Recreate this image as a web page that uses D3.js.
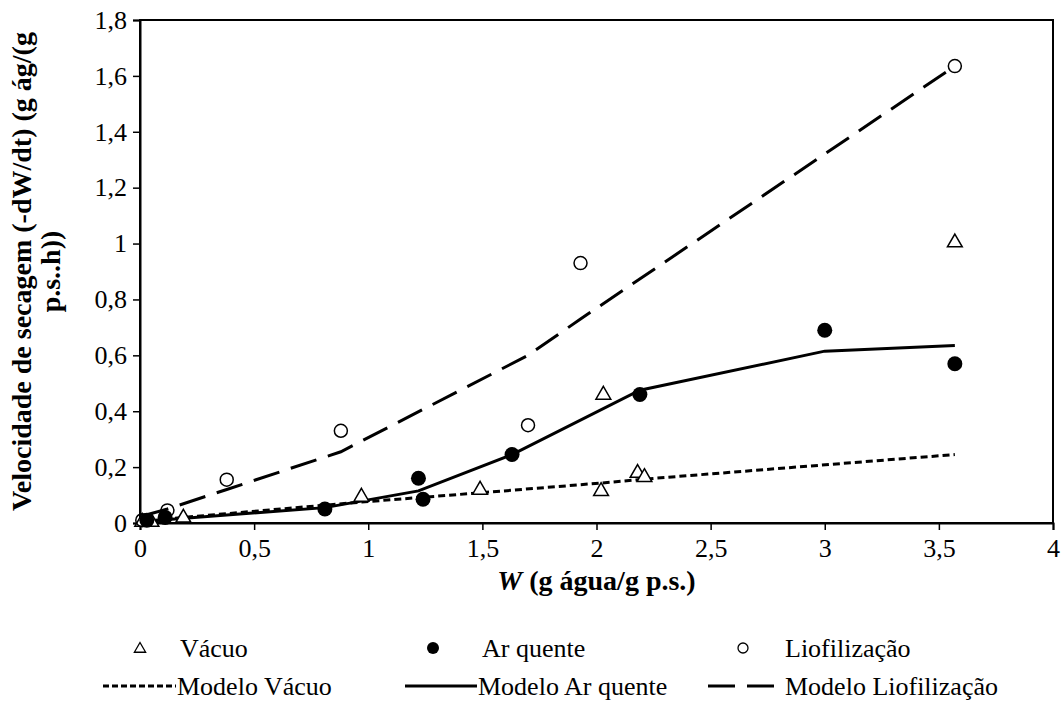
<!DOCTYPE html>
<html>
<head>
<meta charset="utf-8">
<script src="https://cdn.jsdelivr.net/npm/d3@7"></script>
<style>
  body { margin: 0; background: #fff; }
  text { font-family: "Liberation Serif", "Times New Roman", serif; fill: #000; }
</style>
</head>
<body>
<script>
// observed points (W, -dW/dt)
var vacuoX = [0.01, 0.05, 0.19, 0.97, 1.49, 2.02, 2.03, 2.18, 2.21, 3.57];
var vacuoY = [0.0, 0.0, 0.015, 0.09, 0.115, 0.11, 0.455, 0.175, 0.16, 1.0];
var arX = [0.03, 0.11, 0.81, 1.22, 1.24, 1.63, 2.19, 3.0, 3.57];
var arY = [0.01, 0.02, 0.05, 0.16, 0.085, 0.245, 0.46, 0.69, 0.57];
var lioX = [0.01, 0.12, 0.38, 0.88, 1.70, 1.93, 3.57];
var lioY = [0.01, 0.045, 0.155, 0.33, 0.35, 0.93, 1.635];

// model curves
var modVacuoX = [0.01, 0.19, 0.97, 1.49, 2.02, 2.21, 3.57];
var modVacuoY = [0.005, 0.02, 0.075, 0.108, 0.143, 0.157, 0.245];
var modArX = [0.03, 0.11, 0.81, 1.22, 1.63, 2.19, 3.0, 3.57];
var modArY = [0.005, 0.012, 0.055, 0.115, 0.245, 0.475, 0.615, 0.635];
var modLioX = [0.01, 0.12, 0.38, 0.88, 1.70, 1.93, 3.57];
var modLioY = [0.025, 0.05, 0.12, 0.255, 0.60, 0.73, 1.635];

var xTicks = [0, 0.5, 1, 1.5, 2, 2.5, 3, 3.5, 4];
var yTicks = [0, 0.2, 0.4, 0.6, 0.8, 1, 1.2, 1.4, 1.6, 1.8];

var fmt = function(d){ return String(d).replace(".", ","); };

var svg = d3.select("body").append("svg")
    .attr("width", 1061)
    .attr("height", 705);

// plot box
var pLeft = 140, pRight = 1053, pTop = 20, pBottom = 523;

var x = d3.scaleLinear().domain([0, 4]).range([pLeft, pRight]);
var y = d3.scaleLinear().domain([0, 1.8]).range([pBottom, pTop]);

// frame
svg.append("rect")
    .attr("x", pLeft).attr("y", pTop)
    .attr("width", pRight - pLeft).attr("height", pBottom - pTop)
    .attr("fill", "none").attr("stroke", "#000").attr("stroke-width", 2);

// axes
var xAxis = svg.append("g")
    .attr("transform", "translate(0," + pBottom + ")")
    .call(d3.axisBottom(x).tickValues(xTicks).tickFormat(fmt).tickSize(7).tickPadding(8));
var yAxis = svg.append("g")
    .attr("transform", "translate(" + pLeft + ",0)")
    .call(d3.axisLeft(y).tickValues(yTicks).tickFormat(fmt).tickSize(7).tickPadding(6));

[xAxis, yAxis].forEach(function(a){
    a.select(".domain").attr("stroke", "#000").attr("stroke-width", 2);
    a.selectAll(".tick line").attr("stroke", "#000").attr("stroke-width", 1.5);
    a.selectAll(".tick text")
        .attr("font-family", "Liberation Serif, serif")
        .attr("font-size", 26)
        .attr("fill", "#000");
});
xAxis.selectAll(".tick text").attr("dy", "0.72em");

// axis titles
var xt = svg.append("text")
    .attr("x", (pLeft + pRight) / 2).attr("y", 590)
    .attr("text-anchor", "middle")
    .attr("font-size", 28).attr("font-weight", "bold");
xt.append("tspan").attr("font-style", "italic").text("W");
xt.append("tspan").text(" (g água/g p.s.)");

var yt = svg.append("text")
    .attr("transform", "translate(31," + ((pTop + pBottom) / 2) + ") rotate(-90)")
    .attr("text-anchor", "middle")
    .attr("font-size", 28).attr("font-weight", "bold");
yt.append("tspan").attr("x", 0).attr("dy", 0).text("Velocidade de secagem (-dW/dt) (g ág/(g");
yt.append("tspan").attr("x", 0).attr("dy", 29).text("p.s..h))");

// model lines
function zip(xs, ys){ return xs.map(function(v, i){ return [v, ys[i]]; }); }
var line = d3.line().x(function(d){ return x(d[0]); }).y(function(d){ return y(d[1]); });

var models = [
    {pts: zip(modVacuoX, modVacuoY), dash: "7,4"},
    {pts: zip(modArX, modArY), dash: null},
    {pts: zip(modLioX, modLioY), dash: "27,12"}
];
models.forEach(function(m){
    svg.append("path")
        .attr("d", line(m.pts))
        .attr("fill", "none")
        .attr("stroke", "#000")
        .attr("stroke-width", 3)
        .attr("stroke-dasharray", m.dash);
});

// markers
var tri = d3.symbol().type(d3.symbolTriangle).size(95);

svg.append("g").selectAll("path").data(zip(vacuoX, vacuoY)).enter()
    .append("path")
    .attr("d", tri)
    .attr("transform", function(d){ return "translate(" + x(d[0]) + "," + (y(d[1]) - 1) + ")"; })
    .attr("fill", "#fff").attr("stroke", "#000").attr("stroke-width", 1.5);

svg.append("g").selectAll("circle").data(zip(arX, arY)).enter()
    .append("circle")
    .attr("cx", function(d){ return x(d[0]); })
    .attr("cy", function(d){ return y(d[1]); })
    .attr("r", 7.5)
    .attr("fill", "#000");

svg.append("g").selectAll("circle").data(zip(lioX, lioY)).enter()
    .append("circle")
    .attr("cx", function(d){ return x(d[0]); })
    .attr("cy", function(d){ return y(d[1]); })
    .attr("r", 6.5)
    .attr("fill", "none").attr("stroke", "#000").attr("stroke-width", 1.5);

// legend
var leg = svg.append("g");
var row1 = 648, row2 = 686;

leg.append("path").attr("d", d3.symbol().type(d3.symbolTriangle).size(55))
    .attr("transform", "translate(140," + (row1 + 1) + ")")
    .attr("fill", "#fff").attr("stroke", "#000").attr("stroke-width", 1.3);
leg.append("circle").attr("cx", 433).attr("cy", row1).attr("r", 6).attr("fill", "#000");
leg.append("circle").attr("cx", 743).attr("cy", row1).attr("r", 5)
    .attr("fill", "none").attr("stroke", "#000").attr("stroke-width", 1.3);

var legText = [
    {x: 180, y: row1, t: "Vácuo"},
    {x: 482, y: row1, t: "Ar quente"},
    {x: 785, y: row1, t: "Liofilização"},
    {x: 177, y: row2, t: "Modelo Vácuo"},
    {x: 478, y: row2, t: "Modelo Ar quente"},
    {x: 785, y: row2, t: "Modelo Liofilização"}
];
leg.selectAll("text").data(legText).enter()
    .append("text")
    .attr("x", function(d){ return d.x; })
    .attr("y", function(d){ return d.y; })
    .attr("dy", "0.35em")
    .attr("font-size", 26)
    .text(function(d){ return d.t; });

var legLines = [
    {x1: 103, x2: 176, dash: "6,3"},
    {x1: 405, x2: 477, dash: null},
    {x1: 708, x2: 774, dash: "27,12"}
];
leg.selectAll("line").data(legLines).enter()
    .append("line")
    .attr("x1", function(d){ return d.x1; })
    .attr("x2", function(d){ return d.x2; })
    .attr("y1", row2).attr("y2", row2)
    .attr("stroke", "#000").attr("stroke-width", 3)
    .attr("stroke-dasharray", function(d){ return d.dash; });
</script>
</body>
</html>
